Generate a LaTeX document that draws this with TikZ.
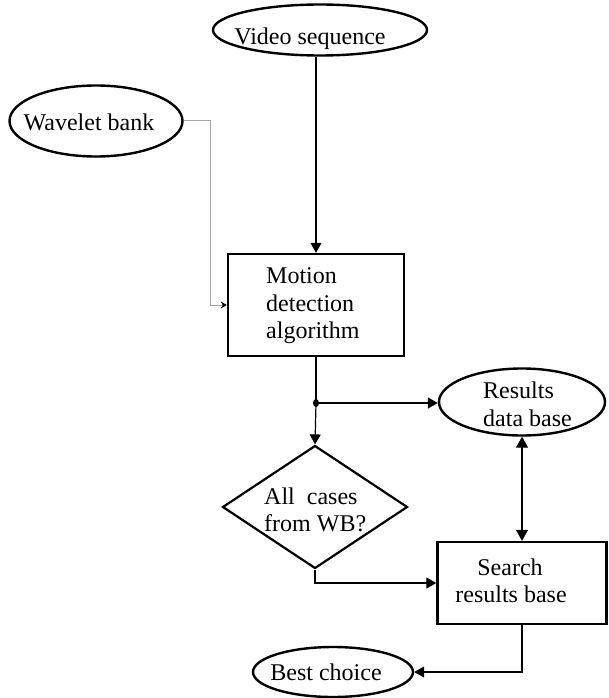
\documentclass[tikz,border=0pt]{standalone}
\usepackage{fontspec}
\setmainfont{Liberation Serif}
\usetikzlibrary{shapes.geometric,arrows.meta}
\begin{document}
\begin{tikzpicture}[x=1pt,y=-1pt,
  font=\fontsize{24}{27.5}\selectfont,
  oval/.style={ellipse,draw,line width=2.4pt,inner sep=0pt},
  boxnode/.style={rectangle,draw,line width=2.4pt,inner sep=0pt},
  decision/.style={diamond,draw,line width=2.2pt,inner sep=0pt,aspect=1.5},
  txt/.style={inner sep=0pt,anchor=base west},
  ctxt/.style={inner sep=0pt,anchor=base},
  conn/.style={line width=1.2pt,-{Triangle[length=10pt,width=11pt]}},
  thinconn/.style={gray!70,line width=1pt,-{Stealth[length=6pt,width=7pt,black]}},
]
\useasboundingbox (0,0) rectangle (608,698);
% shapes
\node[oval,minimum width=214pt,minimum height=51pt] (video) at (320,30) {};
\node[oval,minimum width=173pt,minimum height=71pt] (wavelet) at (96,121) {};
\node[boxnode,minimum width=176pt,minimum height=102pt] (motion) at (316,305) {};
\node[oval,minimum width=166pt,minimum height=67pt] (results) at (522,402) {};
\node[decision,minimum width=185pt,minimum height=123pt] (decision) at (315,507) {};
\node[boxnode,minimum width=169pt,minimum height=82pt] (search) at (522,583) {};
\node[oval,minimum width=160pt,minimum height=50pt] (best) at (333,672) {};
% texts
\node[ctxt] (videoT) at (310,45) {Video sequence};
\node[ctxt] (waveletT) at (89,131) {Wavelet bank};
\node[txt] (motionA) at (266,283) {Motion};
\node[txt] (motionB) at (266,311) {detection};
\node[txt] (motionC) at (266,338) {algorithm};
\node[txt] (resultsA) at (483,398) {Results};
\node[txt] (resultsB) at (483,426) {data base};
\node[txt] (decisionA) at (264,504) {All\ \ cases};
\node[txt] (decisionB) at (264,531) {from WB?};
\node[ctxt] (searchA) at (510,575) {Search};
\node[ctxt] (searchB) at (511,602) {results base};
\node[ctxt] (bestT) at (326,680) {Best choice};
\coordinate (split) at (316,403);
% connectors
\draw[conn] (video.south -| motion.north) -- (motion.north);
\draw[thinconn] (wavelet.east) -- ++(27,0) |- (motion.west);
\draw[line width=1.2pt] (motion.south) -- (split);
\fill (split) ellipse (3pt and 4pt);
\draw[conn] (split) -- (split -| results.west);
\draw[conn] (split) -- (decision.north);
\draw[line width=1.2pt,{Triangle[length=11pt,width=12pt]}-{Triangle[length=11pt,width=12pt]}] (results.south) -- (search.north);
\draw[conn] (decision.south) |- (search.west);
\draw[conn] (search.south) |- (best.east);
\end{tikzpicture}
\end{document}
